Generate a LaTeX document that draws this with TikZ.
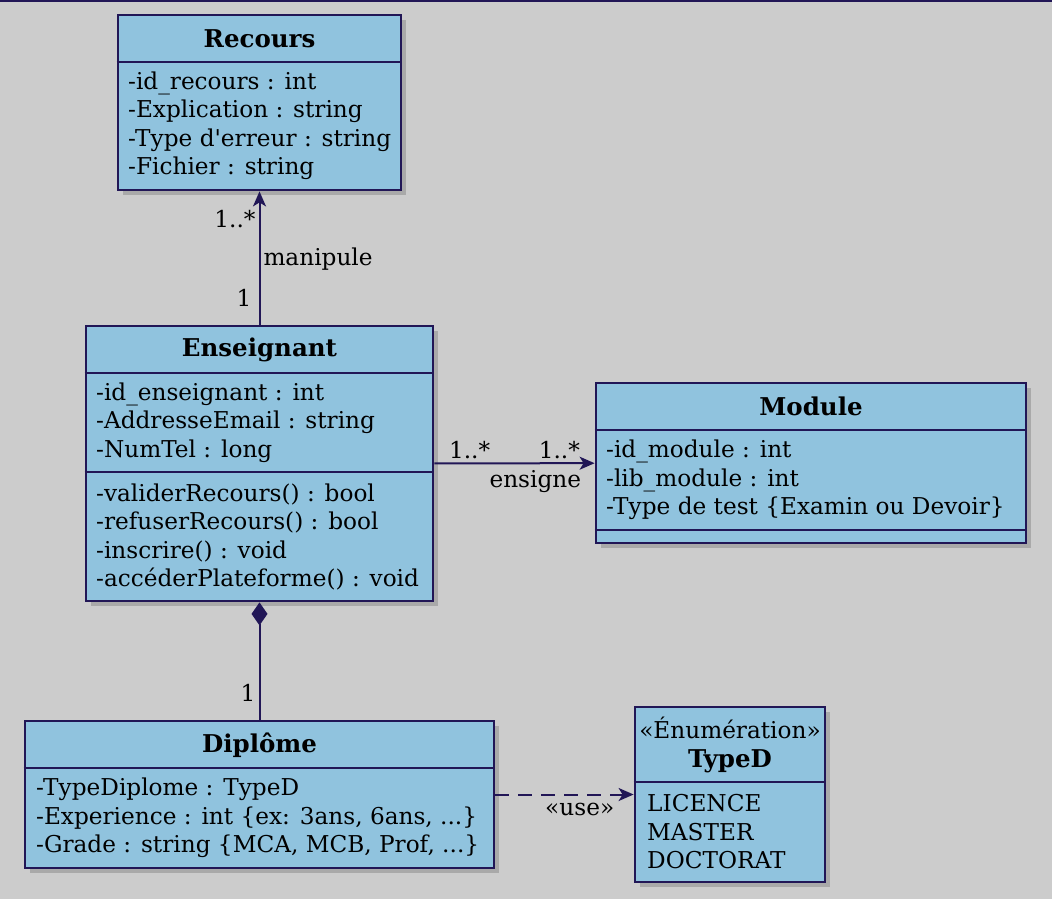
\documentclass[tikz,border=0pt]{standalone}
\usepackage{fontspec}
\setmainfont{DejaVu Serif}
\usepackage{tikz}
\definecolor{umlfill}{RGB}{144,195,222}
\definecolor{umlline}{RGB}{33,22,86}
\definecolor{canvas}{RGB}{204,204,204}
\usetikzlibrary{arrows.meta}
\usetikzlibrary{shadows}
\tikzstyle{classbox}=[draw=umlline,fill=umlfill,line width=2.8pt,drop shadow={shadow xshift=5pt,shadow yshift=-5pt,opacity=0.45}]
\tikzstyle{title}=[font=\fontsize{24.5}{28.5}\selectfont\bfseries,inner sep=0pt]
\tikzstyle{members}=[align=left,anchor=west,inner sep=0pt]
\tikzstyle{sep}=[draw=umlline,line width=2.8pt]
\tikzstyle{assoc}=[draw=umlline,line width=2pt,-{Stealth[length=15pt,width=13pt,inset=4pt]}]
\tikzstyle{compo}=[draw=umlline,line width=2pt,{Diamond[length=23pt,width=16pt]}-]
\tikzstyle{usage}=[draw=umlline,line width=2pt,dash pattern=on 14pt off 9pt,-{Stealth[length=15pt,width=13pt,inset=4pt]}]
\tikzstyle{mult}=[inner sep=3pt]

\begin{document}
\begin{tikzpicture}[x=1pt,y=-1pt,font=\fontsize{23.2}{28.5}\selectfont]
        \fill [canvas] (0,0) rectangle (1052,899);
        \useasboundingbox (0,0) rectangle (1052,899);
        \draw [umlline, line width=2pt] (0,1) -- (1052,1);

        % Recours
        \node [classbox, minimum width=283pt, minimum height=175pt] (rec) at (259.5,102.5) {};
        \draw [sep] (rec.west |- 0,62) -- (rec.east |- 0,62);
        \node [title] (recT) at (259.5,39) {Recours};
        \node [members] (recA) at (128,126) {-id\_recours : int\\-Explication : string\\-Type d\textquotesingle erreur : string\\-Fichier : string};

        % Enseignant
        \node [classbox, minimum width=347pt, minimum height=275pt] (ens) at (259.5,463.5) {};
        \draw [sep] (ens.west |- 0,373) -- (ens.east |- 0,373);
        \draw [sep] (ens.west |- 0,472) -- (ens.east |- 0,472);
        \node [title] (ensT) at (259.5,350) {Enseignant};
        \node [members] (ensA) at (96,422.5) {-id\_enseignant : int\\-AddresseEmail : string\\-NumTel : long};
        \node [members] (ensM) at (96,537) {-validerRecours() : bool\\-refuserRecours() : bool\\-inscrire() : void\\-accéderPlateforme() : void};

        % Module
        \node [classbox, minimum width=430pt, minimum height=160pt] (mod) at (811,463) {};
        \draw [sep] (mod.west |- 0,430) -- (mod.east |- 0,430);
        \draw [sep] (mod.west |- 0,530) -- (mod.east |- 0,530);
        \node [title] (modT) at (811,406) {Module};
        \node [members] (modA) at (606,480) {-id\_module : int\\-lib\_module : int\\-Type de test \{Examin ou Devoir\}};

        % Diplome
        \node [classbox, minimum width=469pt, minimum height=147pt] (dip) at (259.5,794.5) {};
        \draw [sep] (dip.west |- 0,768) -- (dip.east |- 0,768);
        \node [title] (dipT) at (259.5,745) {Diplôme};
        \node [members] (dipA) at (36,818) {-TypeDiplome : TypeD\\-Experience : int \{ex: 3ans, 6ans, ...\}\\-Grade : string \{MCA, MCB, Prof, ...\}};

        % TypeD
        \node [classbox, minimum width=190pt, minimum height=175pt] (typ) at (730,794.5) {};
        \draw [sep] (typ.west |- 0,782) -- (typ.east |- 0,782);
        \node [align=center, inner sep=0pt] (typT) at (730,745) {«Énumération»\\{\fontsize{24.5}{28.5}\selectfont\bfseries TypeD}};
        \node [members] (typA) at (647,832) {LICENCE\\MASTER\\DOCTORAT};

        % liens
        \draw [assoc] (ens) to
            node [mult, pos=0.2, left, xshift=-4pt] {1}
            node [mult, pos=0.49, right] {manipule}
            node [mult, pos=0.79, left] {1..*} (rec);
        \draw [assoc] (ens) to
            node [mult, pos=0.22, above] {1..*}
            node [mult, pos=0.78, above] {1..*}
            node [mult, pos=0.63, below, inner sep=6pt] {ensigne} (mod);
        \draw [compo] (ens) to
            node [mult, pos=0.77, left] {1} (dip);
        \draw [usage] (dip) to
            node [mult, pos=0.61, below, inner sep=8pt] {«use»} (typ);
\end{tikzpicture}
\end{document}
